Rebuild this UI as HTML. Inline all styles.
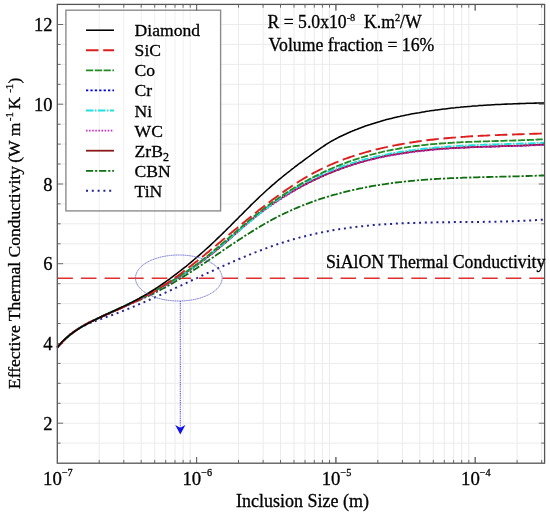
<!DOCTYPE html>
<html><head><meta charset="utf-8"><style>
html,body{margin:0;padding:0;background:#fff;}
svg{display:block;font-family:"Liberation Serif",serif;will-change:transform;}
text{fill:#000;white-space:pre;stroke:#000;stroke-width:0.3px;}
</style></head><body>
<svg width="550" height="514" viewBox="0 0 550 514"><rect width="550" height="514" fill="#fff"/><path d="M99.2,4.4V463.2 M123.8,4.4V463.2 M141.2,4.4V463.2 M154.7,4.4V463.2 M165.7,4.4V463.2 M175.0,4.4V463.2 M183.1,4.4V463.2 M190.2,4.4V463.2 M238.5,4.4V463.2 M263.1,4.4V463.2 M280.5,4.4V463.2 M294.0,4.4V463.2 M305.0,4.4V463.2 M314.3,4.4V463.2 M322.4,4.4V463.2 M329.5,4.4V463.2 M377.8,4.4V463.2 M402.4,4.4V463.2 M419.8,4.4V463.2 M433.3,4.4V463.2 M444.3,4.4V463.2 M453.6,4.4V463.2 M461.7,4.4V463.2 M468.8,4.4V463.2 M517.1,4.4V463.2 M541.7,4.4V463.2 M57.3,443.1H544.6 M57.3,423.2H544.6 M57.3,403.3H544.6 M57.3,383.3H544.6 M57.3,363.4H544.6 M57.3,343.5H544.6 M57.3,323.5H544.6 M57.3,303.6H544.6 M57.3,283.7H544.6 M57.3,263.7H544.6 M57.3,243.8H544.6 M57.3,223.8H544.6 M57.3,203.9H544.6 M57.3,184.0H544.6 M57.3,164.0H544.6 M57.3,144.1H544.6 M57.3,124.2H544.6 M57.3,104.2H544.6 M57.3,84.3H544.6 M57.3,64.4H544.6 M57.3,44.4H544.6 M57.3,24.5H544.6" stroke="#ebebeb" stroke-width="1" fill="none"/><rect x="65.9" y="10.2" width="154.7" height="200.70000000000002" fill="#fff"/><path d="M99.2,10.2V210.9 M123.8,10.2V210.9 M141.2,10.2V210.9 M154.7,10.2V210.9 M165.7,10.2V210.9 M175.0,10.2V210.9 M183.1,10.2V210.9 M190.2,10.2V210.9" stroke="#f0f0f0" stroke-width="1" fill="none"/><rect x="65.9" y="10.2" width="154.7" height="200.70000000000002" fill="none" stroke="#8c8c8c" stroke-width="1.4"/><path d="M99.2,463.2v-3.3 M99.2,4.4v3.3 M123.8,463.2v-3.3 M123.8,4.4v3.3 M141.2,463.2v-3.3 M141.2,4.4v3.3 M154.7,463.2v-3.3 M154.7,4.4v3.3 M165.7,463.2v-3.3 M165.7,4.4v3.3 M175.0,463.2v-3.3 M175.0,4.4v3.3 M183.1,463.2v-3.3 M183.1,4.4v3.3 M190.2,463.2v-3.3 M190.2,4.4v3.3 M196.6,463.2v-6.2 M196.6,4.4v6.2 M238.5,463.2v-3.3 M238.5,4.4v3.3 M263.1,463.2v-3.3 M263.1,4.4v3.3 M280.5,463.2v-3.3 M280.5,4.4v3.3 M294.0,463.2v-3.3 M294.0,4.4v3.3 M305.0,463.2v-3.3 M305.0,4.4v3.3 M314.3,463.2v-3.3 M314.3,4.4v3.3 M322.4,463.2v-3.3 M322.4,4.4v3.3 M329.5,463.2v-3.3 M329.5,4.4v3.3 M335.9,463.2v-6.2 M335.9,4.4v6.2 M377.8,463.2v-3.3 M377.8,4.4v3.3 M402.4,463.2v-3.3 M402.4,4.4v3.3 M419.8,463.2v-3.3 M419.8,4.4v3.3 M433.3,463.2v-3.3 M433.3,4.4v3.3 M444.3,463.2v-3.3 M444.3,4.4v3.3 M453.6,463.2v-3.3 M453.6,4.4v3.3 M461.7,463.2v-3.3 M461.7,4.4v3.3 M468.8,463.2v-3.3 M468.8,4.4v3.3 M475.2,463.2v-6.2 M475.2,4.4v6.2 M517.1,463.2v-3.3 M517.1,4.4v3.3 M541.7,463.2v-3.3 M541.7,4.4v3.3 M196.6,463.2v-6.2 M196.6,4.4v6.2 M335.9,463.2v-6.2 M335.9,4.4v6.2 M475.2,463.2v-6.2 M475.2,4.4v6.2 M57.3,443.1h3.3 M544.6,443.1h-3.3 M57.3,423.2h5.8 M544.6,423.2h-5.8 M57.3,403.3h3.3 M544.6,403.3h-3.3 M57.3,383.3h3.3 M544.6,383.3h-3.3 M57.3,363.4h3.3 M544.6,363.4h-3.3 M57.3,343.5h5.8 M544.6,343.5h-5.8 M57.3,323.5h3.3 M544.6,323.5h-3.3 M57.3,303.6h3.3 M544.6,303.6h-3.3 M57.3,283.7h3.3 M544.6,283.7h-3.3 M57.3,263.7h5.8 M544.6,263.7h-5.8 M57.3,243.8h3.3 M544.6,243.8h-3.3 M57.3,223.8h3.3 M544.6,223.8h-3.3 M57.3,203.9h3.3 M544.6,203.9h-3.3 M57.3,184.0h5.8 M544.6,184.0h-5.8 M57.3,164.0h3.3 M544.6,164.0h-3.3 M57.3,144.1h3.3 M544.6,144.1h-3.3 M57.3,124.2h3.3 M544.6,124.2h-3.3 M57.3,104.2h5.8 M544.6,104.2h-5.8 M57.3,84.3h3.3 M544.6,84.3h-3.3 M57.3,64.4h3.3 M544.6,64.4h-3.3 M57.3,44.4h3.3 M544.6,44.4h-3.3 M57.3,24.5h5.8 M544.6,24.5h-5.8" stroke="#6a6a6a" stroke-width="1.0" fill="none"/><path d="M57.3,278.3H544.6" stroke="#de3030" stroke-width="1.6" stroke-dasharray="15.6 8" fill="none"/><path d="M57.3,347.5 L58.9,345.6 L60.6,343.7 L62.2,342.0 L63.8,340.3 L65.4,338.7 L67.1,337.3 L68.7,335.9 L70.3,334.5 L72.0,333.3 L73.6,332.1 L75.2,331.0 L76.9,329.9 L78.5,328.9 L80.1,328.0 L81.7,327.1 L83.4,326.2 L85.0,325.4 L86.6,324.6 L88.3,323.9 L89.9,323.2 L91.5,322.5 L93.2,321.8 L94.8,321.2 L96.4,320.6 L98.0,320.0 L99.7,319.4 L101.3,318.9 L102.9,318.3 L104.6,317.7 L106.2,317.1 L107.8,316.6 L109.5,316.0 L111.1,315.4 L112.7,314.8 L114.3,314.2 L116.0,313.6 L117.6,313.0 L119.2,312.3 L120.9,311.7 L122.5,311.1 L124.1,310.4 L125.8,309.8 L127.4,309.1 L129.0,308.5 L130.6,307.8 L132.3,307.1 L133.9,306.5 L135.5,305.8 L137.2,305.1 L138.8,304.4 L140.4,303.7 L142.0,303.0 L143.7,302.3 L145.3,301.6 L146.9,300.9 L148.6,300.2 L150.2,299.5 L151.8,298.8 L153.5,298.0 L155.1,297.3 L156.7,296.6 L158.3,295.8 L160.0,295.1 L161.6,294.4 L163.2,293.6 L164.9,292.9 L166.5,292.1 L168.1,291.4 L169.8,290.6 L171.4,289.9 L173.0,289.1 L174.6,288.4 L176.3,287.6 L177.9,286.9 L179.5,286.1 L181.2,285.4 L182.8,284.6 L184.4,283.8 L186.1,283.1 L187.7,282.3 L189.3,281.6 L190.9,280.8 L192.6,280.0 L194.2,279.3 L195.8,278.5 L197.5,277.8 L199.1,277.0 L200.7,276.3 L202.3,275.5 L204.0,274.7 L205.6,274.0 L207.2,273.2 L208.9,272.5 L210.5,271.7 L212.1,271.0 L213.8,270.3 L215.4,269.5 L217.0,268.8 L218.6,268.0 L220.3,267.3 L221.9,266.6 L223.5,265.8 L225.2,265.1 L226.8,264.4 L228.4,263.7 L230.1,263.0 L231.7,262.2 L233.3,261.5 L234.9,260.8 L236.6,260.1 L238.2,259.4 L239.8,258.7 L241.5,258.1 L243.1,257.4 L244.7,256.7 L246.4,256.0 L248.0,255.4 L249.6,254.7 L251.2,254.0 L252.9,253.4 L254.5,252.7 L256.1,252.1 L257.8,251.5 L259.4,250.8 L261.0,250.2 L262.7,249.6 L264.3,249.0 L265.9,248.4 L267.5,247.8 L269.2,247.2 L270.8,246.6 L272.4,246.0 L274.1,245.5 L275.7,244.9 L277.3,244.3 L278.9,243.8 L280.6,243.3 L282.2,242.7 L283.8,242.2 L285.5,241.7 L287.1,241.2 L288.7,240.7 L290.4,240.2 L292.0,239.7 L293.6,239.2 L295.2,238.8 L296.9,238.3 L298.5,237.9 L300.1,237.4 L301.8,237.0 L303.4,236.6 L305.0,236.2 L306.7,235.8 L308.3,235.4 L309.9,235.0 L311.5,234.6 L313.2,234.2 L314.8,233.9 L316.4,233.5 L318.1,233.1 L319.7,232.8 L321.3,232.5 L323.0,232.1 L324.6,231.8 L326.2,231.5 L327.8,231.2 L329.5,230.9 L331.1,230.6 L332.7,230.3 L334.4,230.0 L336.0,229.8 L337.6,229.5 L339.2,229.2 L340.9,229.0 L342.5,228.7 L344.1,228.5 L345.8,228.3 L347.4,228.0 L349.0,227.8 L350.7,227.6 L352.3,227.4 L353.9,227.2 L355.5,227.0 L357.2,226.8 L358.8,226.6 L360.4,226.4 L362.1,226.2 L363.7,226.1 L365.3,225.9 L367.0,225.7 L368.6,225.6 L370.2,225.4 L371.8,225.3 L373.5,225.1 L375.1,225.0 L376.7,224.9 L378.4,224.7 L380.0,224.6 L381.6,224.5 L383.3,224.4 L384.9,224.3 L386.5,224.2 L388.1,224.1 L389.8,224.0 L391.4,223.9 L393.0,223.8 L394.7,223.7 L396.3,223.6 L397.9,223.5 L399.6,223.4 L401.2,223.4 L402.8,223.3 L404.4,223.2 L406.1,223.1 L407.7,223.1 L409.3,223.0 L411.0,223.0 L412.6,222.9 L414.2,222.9 L415.8,222.8 L417.5,222.8 L419.1,222.7 L420.7,222.7 L422.4,222.6 L424.0,222.6 L425.6,222.6 L427.3,222.5 L428.9,222.5 L430.5,222.5 L432.1,222.4 L433.8,222.4 L435.4,222.4 L437.0,222.3 L438.7,222.3 L440.3,222.3 L441.9,222.3 L443.6,222.3 L445.2,222.2 L446.8,222.2 L448.4,222.2 L450.1,222.2 L451.7,222.2 L453.3,222.1 L455.0,222.1 L456.6,222.1 L458.2,222.1 L459.9,222.1 L461.5,222.1 L463.1,222.1 L464.7,222.0 L466.4,222.0 L468.0,222.0 L469.6,222.0 L471.3,222.0 L472.9,222.0 L474.5,222.0 L476.1,221.9 L477.8,221.9 L479.4,221.9 L481.0,221.9 L482.7,221.9 L484.3,221.8 L485.9,221.8 L487.6,221.8 L489.2,221.8 L490.8,221.7 L492.4,221.7 L494.1,221.7 L495.7,221.7 L497.3,221.6 L499.0,221.6 L500.6,221.6 L502.2,221.5 L503.9,221.5 L505.5,221.4 L507.1,221.4 L508.7,221.3 L510.4,221.3 L512.0,221.2 L513.6,221.2 L515.3,221.1 L516.9,221.1 L518.5,221.0 L520.2,220.9 L521.8,220.9 L523.4,220.8 L525.0,220.7 L526.7,220.7 L528.3,220.6 L529.9,220.5 L531.6,220.4 L533.2,220.3 L534.8,220.2 L536.5,220.1 L538.1,220.0 L539.7,219.9 L541.3,219.8 L543.0,219.7 L544.6,219.6" stroke="#23238f" stroke-width="2.0" fill="none" stroke-linecap="butt" stroke-linejoin="round" stroke-dasharray="2 3.8"/><path d="M57.3,347.2 L58.9,345.4 L60.6,343.7 L62.2,342.1 L63.8,340.5 L65.4,339.0 L67.1,337.6 L68.7,336.2 L70.3,334.8 L72.0,333.5 L73.6,332.3 L75.2,331.1 L76.9,329.9 L78.5,328.8 L80.1,327.7 L81.7,326.7 L83.4,325.7 L85.0,324.7 L86.6,323.8 L88.3,322.9 L89.9,322.0 L91.5,321.2 L93.2,320.3 L94.8,319.5 L96.4,318.7 L98.0,318.0 L99.7,317.2 L101.3,316.5 L102.9,315.7 L104.6,315.0 L106.2,314.3 L107.8,313.6 L109.5,312.9 L111.1,312.2 L112.7,311.5 L114.3,310.8 L116.0,310.1 L117.6,309.4 L119.2,308.7 L120.9,308.0 L122.5,307.4 L124.1,306.7 L125.8,306.0 L127.4,305.3 L129.0,304.6 L130.6,303.9 L132.3,303.2 L133.9,302.5 L135.5,301.8 L137.2,301.1 L138.8,300.4 L140.4,299.7 L142.0,298.9 L143.7,298.2 L145.3,297.4 L146.9,296.7 L148.6,295.9 L150.2,295.1 L151.8,294.4 L153.5,293.6 L155.1,292.7 L156.7,291.9 L158.3,291.1 L160.0,290.2 L161.6,289.3 L163.2,288.5 L164.9,287.6 L166.5,286.7 L168.1,285.8 L169.8,284.8 L171.4,283.9 L173.0,282.9 L174.6,282.0 L176.3,281.0 L177.9,280.0 L179.5,279.0 L181.2,278.1 L182.8,277.0 L184.4,276.0 L186.1,275.0 L187.7,274.0 L189.3,272.9 L190.9,271.9 L192.6,270.9 L194.2,269.8 L195.8,268.7 L197.5,267.7 L199.1,266.6 L200.7,265.5 L202.3,264.4 L204.0,263.4 L205.6,262.3 L207.2,261.2 L208.9,260.1 L210.5,259.0 L212.1,257.9 L213.8,256.8 L215.4,255.7 L217.0,254.6 L218.6,253.5 L220.3,252.4 L221.9,251.2 L223.5,250.1 L225.2,249.0 L226.8,247.9 L228.4,246.8 L230.1,245.7 L231.7,244.6 L233.3,243.6 L234.9,242.5 L236.6,241.4 L238.2,240.3 L239.8,239.2 L241.5,238.2 L243.1,237.1 L244.7,236.1 L246.4,235.0 L248.0,234.0 L249.6,232.9 L251.2,231.9 L252.9,230.9 L254.5,229.9 L256.1,228.9 L257.8,227.9 L259.4,226.9 L261.0,225.9 L262.7,225.0 L264.3,224.0 L265.9,223.1 L267.5,222.2 L269.2,221.3 L270.8,220.4 L272.4,219.5 L274.1,218.6 L275.7,217.8 L277.3,216.9 L278.9,216.1 L280.6,215.3 L282.2,214.5 L283.8,213.7 L285.5,212.9 L287.1,212.2 L288.7,211.4 L290.4,210.7 L292.0,209.9 L293.6,209.2 L295.2,208.5 L296.9,207.8 L298.5,207.1 L300.1,206.5 L301.8,205.8 L303.4,205.2 L305.0,204.5 L306.7,203.9 L308.3,203.3 L309.9,202.7 L311.5,202.1 L313.2,201.5 L314.8,200.9 L316.4,200.3 L318.1,199.8 L319.7,199.2 L321.3,198.7 L323.0,198.2 L324.6,197.7 L326.2,197.2 L327.8,196.7 L329.5,196.2 L331.1,195.7 L332.7,195.2 L334.4,194.7 L336.0,194.3 L337.6,193.8 L339.2,193.4 L340.9,193.0 L342.5,192.5 L344.1,192.1 L345.8,191.7 L347.4,191.3 L349.0,190.9 L350.7,190.5 L352.3,190.2 L353.9,189.8 L355.5,189.4 L357.2,189.1 L358.8,188.7 L360.4,188.4 L362.1,188.1 L363.7,187.7 L365.3,187.4 L367.0,187.1 L368.6,186.8 L370.2,186.5 L371.8,186.2 L373.5,185.9 L375.1,185.6 L376.7,185.4 L378.4,185.1 L380.0,184.8 L381.6,184.6 L383.3,184.3 L384.9,184.1 L386.5,183.8 L388.1,183.6 L389.8,183.4 L391.4,183.2 L393.0,183.0 L394.7,182.7 L396.3,182.5 L397.9,182.3 L399.6,182.1 L401.2,182.0 L402.8,181.8 L404.4,181.6 L406.1,181.4 L407.7,181.3 L409.3,181.1 L411.0,180.9 L412.6,180.8 L414.2,180.6 L415.8,180.5 L417.5,180.3 L419.1,180.2 L420.7,180.1 L422.4,179.9 L424.0,179.8 L425.6,179.7 L427.3,179.6 L428.9,179.4 L430.5,179.3 L432.1,179.2 L433.8,179.1 L435.4,179.0 L437.0,178.9 L438.7,178.8 L440.3,178.7 L441.9,178.6 L443.6,178.6 L445.2,178.5 L446.8,178.4 L448.4,178.3 L450.1,178.2 L451.7,178.2 L453.3,178.1 L455.0,178.0 L456.6,178.0 L458.2,177.9 L459.9,177.8 L461.5,177.8 L463.1,177.7 L464.7,177.7 L466.4,177.6 L468.0,177.6 L469.6,177.5 L471.3,177.5 L472.9,177.4 L474.5,177.4 L476.1,177.3 L477.8,177.3 L479.4,177.2 L481.0,177.2 L482.7,177.1 L484.3,177.1 L485.9,177.1 L487.6,177.0 L489.2,177.0 L490.8,176.9 L492.4,176.9 L494.1,176.9 L495.7,176.8 L497.3,176.8 L499.0,176.8 L500.6,176.7 L502.2,176.7 L503.9,176.6 L505.5,176.6 L507.1,176.6 L508.7,176.5 L510.4,176.5 L512.0,176.4 L513.6,176.4 L515.3,176.4 L516.9,176.3 L518.5,176.3 L520.2,176.2 L521.8,176.2 L523.4,176.1 L525.0,176.1 L526.7,176.0 L528.3,176.0 L529.9,175.9 L531.6,175.9 L533.2,175.8 L534.8,175.8 L536.5,175.7 L538.1,175.7 L539.7,175.6 L541.3,175.5 L543.0,175.5 L544.6,175.4" stroke="#0f6e0f" stroke-width="1.8" fill="none" stroke-linecap="butt" stroke-linejoin="round" stroke-dasharray="7.2 1.9 2.2 1.8"/><path d="M57.3,347.5 L58.9,345.6 L60.6,343.8 L62.2,342.0 L63.8,340.4 L65.4,338.8 L67.1,337.3 L68.7,335.8 L70.3,334.5 L72.0,333.2 L73.6,332.0 L75.2,330.8 L76.9,329.7 L78.5,328.6 L80.1,327.6 L81.7,326.6 L83.4,325.7 L85.0,324.8 L86.6,323.9 L88.3,323.1 L89.9,322.3 L91.5,321.5 L93.2,320.7 L94.8,320.0 L96.4,319.2 L98.0,318.5 L99.7,317.7 L101.3,317.0 L102.9,316.2 L104.6,315.5 L106.2,314.8 L107.8,314.0 L109.5,313.3 L111.1,312.5 L112.7,311.8 L114.3,311.1 L116.0,310.3 L117.6,309.6 L119.2,308.8 L120.9,308.1 L122.5,307.3 L124.1,306.5 L125.8,305.8 L127.4,305.0 L129.0,304.2 L130.6,303.5 L132.3,302.7 L133.9,301.9 L135.5,301.1 L137.2,300.3 L138.8,299.5 L140.4,298.7 L142.0,297.9 L143.7,297.0 L145.3,296.2 L146.9,295.4 L148.6,294.5 L150.2,293.7 L151.8,292.8 L153.5,291.9 L155.1,291.0 L156.7,290.1 L158.3,289.2 L160.0,288.3 L161.6,287.4 L163.2,286.5 L164.9,285.5 L166.5,284.6 L168.1,283.6 L169.8,282.7 L171.4,281.7 L173.0,280.7 L174.6,279.7 L176.3,278.7 L177.9,277.7 L179.5,276.6 L181.2,275.6 L182.8,274.5 L184.4,273.5 L186.1,272.4 L187.7,271.3 L189.3,270.2 L190.9,269.1 L192.6,268.0 L194.2,266.8 L195.8,265.7 L197.5,264.5 L199.1,263.3 L200.7,262.2 L202.3,261.0 L204.0,259.7 L205.6,258.5 L207.2,257.3 L208.9,256.0 L210.5,254.8 L212.1,253.5 L213.8,252.2 L215.4,250.9 L217.0,249.5 L218.6,248.2 L220.3,246.8 L221.9,245.5 L223.5,244.1 L225.2,242.7 L226.8,241.3 L228.4,239.9 L230.1,238.4 L231.7,237.0 L233.3,235.6 L234.9,234.1 L236.6,232.7 L238.2,231.2 L239.8,229.8 L241.5,228.4 L243.1,226.9 L244.7,225.5 L246.4,224.1 L248.0,222.7 L249.6,221.3 L251.2,220.0 L252.9,218.6 L254.5,217.3 L256.1,216.0 L257.8,214.7 L259.4,213.4 L261.0,212.1 L262.7,210.9 L264.3,209.7 L265.9,208.5 L267.5,207.3 L269.2,206.1 L270.8,205.0 L272.4,203.9 L274.1,202.8 L275.7,201.7 L277.3,200.6 L278.9,199.5 L280.6,198.5 L282.2,197.5 L283.8,196.5 L285.5,195.5 L287.1,194.5 L288.7,193.5 L290.4,192.5 L292.0,191.6 L293.6,190.7 L295.2,189.7 L296.9,188.8 L298.5,187.9 L300.1,187.1 L301.8,186.2 L303.4,185.3 L305.0,184.5 L306.7,183.6 L308.3,182.8 L309.9,182.0 L311.5,181.2 L313.2,180.4 L314.8,179.6 L316.4,178.9 L318.1,178.1 L319.7,177.3 L321.3,176.6 L323.0,175.9 L324.6,175.2 L326.2,174.5 L327.8,173.8 L329.5,173.1 L331.1,172.4 L332.7,171.8 L334.4,171.1 L336.0,170.5 L337.6,169.9 L339.2,169.3 L340.9,168.7 L342.5,168.1 L344.1,167.5 L345.8,166.9 L347.4,166.3 L349.0,165.8 L350.7,165.3 L352.3,164.7 L353.9,164.2 L355.5,163.7 L357.2,163.2 L358.8,162.7 L360.4,162.2 L362.1,161.8 L363.7,161.3 L365.3,160.9 L367.0,160.4 L368.6,160.0 L370.2,159.6 L371.8,159.2 L373.5,158.8 L375.1,158.4 L376.7,158.0 L378.4,157.6 L380.0,157.2 L381.6,156.9 L383.3,156.5 L384.9,156.2 L386.5,155.9 L388.1,155.6 L389.8,155.2 L391.4,154.9 L393.0,154.6 L394.7,154.3 L396.3,154.1 L397.9,153.8 L399.6,153.5 L401.2,153.3 L402.8,153.0 L404.4,152.8 L406.1,152.5 L407.7,152.3 L409.3,152.1 L411.0,151.8 L412.6,151.6 L414.2,151.4 L415.8,151.2 L417.5,151.0 L419.1,150.8 L420.7,150.7 L422.4,150.5 L424.0,150.3 L425.6,150.1 L427.3,150.0 L428.9,149.8 L430.5,149.7 L432.1,149.5 L433.8,149.4 L435.4,149.2 L437.0,149.1 L438.7,149.0 L440.3,148.9 L441.9,148.7 L443.6,148.6 L445.2,148.5 L446.8,148.4 L448.4,148.3 L450.1,148.2 L451.7,148.1 L453.3,148.0 L455.0,147.9 L456.6,147.8 L458.2,147.8 L459.9,147.7 L461.5,147.6 L463.1,147.5 L464.7,147.5 L466.4,147.4 L468.0,147.3 L469.6,147.2 L471.3,147.2 L472.9,147.1 L474.5,147.1 L476.1,147.0 L477.8,146.9 L479.4,146.9 L481.0,146.8 L482.7,146.8 L484.3,146.7 L485.9,146.7 L487.6,146.6 L489.2,146.6 L490.8,146.5 L492.4,146.5 L494.1,146.4 L495.7,146.4 L497.3,146.3 L499.0,146.3 L500.6,146.2 L502.2,146.2 L503.9,146.1 L505.5,146.1 L507.1,146.0 L508.7,146.0 L510.4,145.9 L512.0,145.9 L513.6,145.8 L515.3,145.8 L516.9,145.7 L518.5,145.7 L520.2,145.6 L521.8,145.6 L523.4,145.5 L525.0,145.4 L526.7,145.4 L528.3,145.3 L529.9,145.2 L531.6,145.1 L533.2,145.1 L534.8,145.0 L536.5,144.9 L538.1,144.8 L539.7,144.7 L541.3,144.6 L543.0,144.5 L544.6,144.4" stroke="#0000e6" stroke-width="1.8" fill="none" stroke-linecap="butt" stroke-linejoin="round" stroke-dasharray="2.3 2.1"/><path d="M57.3,347.5 L58.9,345.6 L60.6,343.8 L62.2,342.0 L63.8,340.4 L65.4,338.8 L67.1,337.3 L68.7,335.8 L70.3,334.5 L72.0,333.2 L73.6,332.0 L75.2,330.8 L76.9,329.7 L78.5,328.6 L80.1,327.6 L81.7,326.6 L83.4,325.7 L85.0,324.8 L86.6,323.9 L88.3,323.1 L89.9,322.3 L91.5,321.5 L93.2,320.7 L94.8,320.0 L96.4,319.2 L98.0,318.5 L99.7,317.7 L101.3,317.0 L102.9,316.2 L104.6,315.5 L106.2,314.8 L107.8,314.0 L109.5,313.3 L111.1,312.5 L112.7,311.8 L114.3,311.1 L116.0,310.3 L117.6,309.6 L119.2,308.8 L120.9,308.1 L122.5,307.3 L124.1,306.5 L125.8,305.8 L127.4,305.0 L129.0,304.2 L130.6,303.5 L132.3,302.7 L133.9,301.9 L135.5,301.1 L137.2,300.3 L138.8,299.5 L140.4,298.7 L142.0,297.9 L143.7,297.0 L145.3,296.2 L146.9,295.4 L148.6,294.5 L150.2,293.7 L151.8,292.8 L153.5,291.9 L155.1,291.0 L156.7,290.1 L158.3,289.2 L160.0,288.3 L161.6,287.4 L163.2,286.5 L164.9,285.5 L166.5,284.6 L168.1,283.6 L169.8,282.7 L171.4,281.7 L173.0,280.7 L174.6,279.7 L176.3,278.7 L177.9,277.7 L179.5,276.6 L181.2,275.6 L182.8,274.5 L184.4,273.5 L186.1,272.4 L187.7,271.3 L189.3,270.2 L190.9,269.1 L192.6,268.0 L194.2,266.8 L195.8,265.7 L197.5,264.5 L199.1,263.3 L200.7,262.2 L202.3,261.0 L204.0,259.7 L205.6,258.5 L207.2,257.3 L208.9,256.0 L210.5,254.8 L212.1,253.5 L213.8,252.2 L215.4,250.9 L217.0,249.5 L218.6,248.2 L220.3,246.8 L221.9,245.5 L223.5,244.1 L225.2,242.7 L226.8,241.3 L228.4,239.9 L230.1,238.4 L231.7,237.0 L233.3,235.6 L234.9,234.1 L236.6,232.7 L238.2,231.2 L239.8,229.8 L241.5,228.4 L243.1,226.9 L244.7,225.5 L246.4,224.1 L248.0,222.7 L249.6,221.3 L251.2,220.0 L252.9,218.6 L254.5,217.3 L256.1,216.0 L257.8,214.7 L259.4,213.4 L261.0,212.1 L262.7,210.9 L264.3,209.7 L265.9,208.5 L267.5,207.3 L269.2,206.1 L270.8,205.0 L272.4,203.9 L274.1,202.8 L275.7,201.7 L277.3,200.6 L278.9,199.5 L280.6,198.5 L282.2,197.5 L283.8,196.5 L285.5,195.5 L287.1,194.5 L288.7,193.5 L290.4,192.5 L292.0,191.6 L293.6,190.7 L295.2,189.7 L296.9,188.8 L298.5,187.9 L300.1,187.1 L301.8,186.2 L303.4,185.3 L305.0,184.5 L306.7,183.6 L308.3,182.8 L309.9,182.0 L311.5,181.2 L313.2,180.4 L314.8,179.6 L316.4,178.9 L318.1,178.1 L319.7,177.3 L321.3,176.6 L323.0,175.9 L324.6,175.2 L326.2,174.5 L327.8,173.8 L329.5,173.1 L331.1,172.4 L332.7,171.8 L334.4,171.1 L336.0,170.5 L337.6,169.9 L339.2,169.3 L340.9,168.7 L342.5,168.1 L344.1,167.5 L345.8,166.9 L347.4,166.3 L349.0,165.8 L350.7,165.3 L352.3,164.7 L353.9,164.2 L355.5,163.7 L357.2,163.2 L358.8,162.7 L360.4,162.2 L362.1,161.8 L363.7,161.3 L365.3,160.9 L367.0,160.4 L368.6,160.0 L370.2,159.6 L371.8,159.2 L373.5,158.8 L375.1,158.4 L376.7,158.0 L378.4,157.6 L380.0,157.2 L381.6,156.9 L383.3,156.5 L384.9,156.2 L386.5,155.9 L388.1,155.6 L389.8,155.2 L391.4,154.9 L393.0,154.6 L394.7,154.3 L396.3,154.1 L397.9,153.8 L399.6,153.5 L401.2,153.3 L402.8,153.0 L404.4,152.8 L406.1,152.5 L407.7,152.3 L409.3,152.1 L411.0,151.8 L412.6,151.6 L414.2,151.4 L415.8,151.2 L417.5,151.0 L419.1,150.8 L420.7,150.7 L422.4,150.5 L424.0,150.3 L425.6,150.1 L427.3,150.0 L428.9,149.8 L430.5,149.7 L432.1,149.5 L433.8,149.4 L435.4,149.2 L437.0,149.1 L438.7,149.0 L440.3,148.9 L441.9,148.7 L443.6,148.6 L445.2,148.5 L446.8,148.4 L448.4,148.3 L450.1,148.2 L451.7,148.1 L453.3,148.0 L455.0,147.9 L456.6,147.8 L458.2,147.8 L459.9,147.7 L461.5,147.6 L463.1,147.5 L464.7,147.5 L466.4,147.4 L468.0,147.3 L469.6,147.2 L471.3,147.2 L472.9,147.1 L474.5,147.1 L476.1,147.0 L477.8,146.9 L479.4,146.9 L481.0,146.8 L482.7,146.8 L484.3,146.7 L485.9,146.7 L487.6,146.6 L489.2,146.6 L490.8,146.5 L492.4,146.5 L494.1,146.4 L495.7,146.4 L497.3,146.3 L499.0,146.3 L500.6,146.2 L502.2,146.2 L503.9,146.1 L505.5,146.1 L507.1,146.0 L508.7,146.0 L510.4,145.9 L512.0,145.9 L513.6,145.8 L515.3,145.8 L516.9,145.7 L518.5,145.7 L520.2,145.6 L521.8,145.6 L523.4,145.5 L525.0,145.4 L526.7,145.4 L528.3,145.3 L529.9,145.2 L531.6,145.1 L533.2,145.1 L534.8,145.0 L536.5,144.9 L538.1,144.8 L539.7,144.7 L541.3,144.6 L543.0,144.5 L544.6,144.4" stroke="#8b1a1a" stroke-width="1.8" fill="none" stroke-linecap="butt" stroke-linejoin="round"/><path d="M57.3,347.5 L58.9,345.6 L60.6,343.8 L62.2,342.0 L63.8,340.4 L65.4,338.8 L67.1,337.3 L68.7,335.9 L70.3,334.6 L72.0,333.3 L73.6,332.0 L75.2,330.8 L76.9,329.7 L78.5,328.6 L80.1,327.6 L81.7,326.6 L83.4,325.7 L85.0,324.7 L86.6,323.9 L88.3,323.0 L89.9,322.2 L91.5,321.4 L93.2,320.6 L94.8,319.8 L96.4,319.1 L98.0,318.3 L99.7,317.6 L101.3,316.8 L102.9,316.1 L104.6,315.4 L106.2,314.6 L107.8,313.9 L109.5,313.2 L111.1,312.5 L112.7,311.8 L114.3,311.0 L116.0,310.3 L117.6,309.6 L119.2,308.9 L120.9,308.2 L122.5,307.4 L124.1,306.7 L125.8,306.0 L127.4,305.2 L129.0,304.5 L130.6,303.7 L132.3,303.0 L133.9,302.2 L135.5,301.5 L137.2,300.7 L138.8,299.9 L140.4,299.1 L142.0,298.3 L143.7,297.5 L145.3,296.7 L146.9,295.9 L148.6,295.0 L150.2,294.2 L151.8,293.3 L153.5,292.4 L155.1,291.6 L156.7,290.7 L158.3,289.7 L160.0,288.8 L161.6,287.9 L163.2,287.0 L164.9,286.0 L166.5,285.0 L168.1,284.1 L169.8,283.1 L171.4,282.1 L173.0,281.1 L174.6,280.0 L176.3,279.0 L177.9,278.0 L179.5,276.9 L181.2,275.8 L182.8,274.8 L184.4,273.7 L186.1,272.6 L187.7,271.5 L189.3,270.3 L190.9,269.2 L192.6,268.0 L194.2,266.9 L195.8,265.7 L197.5,264.5 L199.1,263.3 L200.7,262.1 L202.3,260.9 L204.0,259.7 L205.6,258.5 L207.2,257.2 L208.9,255.9 L210.5,254.7 L212.1,253.4 L213.8,252.1 L215.4,250.8 L217.0,249.5 L218.6,248.1 L220.3,246.8 L221.9,245.4 L223.5,244.1 L225.2,242.7 L226.8,241.3 L228.4,239.9 L230.1,238.5 L231.7,237.1 L233.3,235.7 L234.9,234.3 L236.6,232.9 L238.2,231.5 L239.8,230.1 L241.5,228.7 L243.1,227.3 L244.7,225.9 L246.4,224.6 L248.0,223.2 L249.6,221.9 L251.2,220.5 L252.9,219.2 L254.5,217.9 L256.1,216.6 L257.8,215.3 L259.4,214.1 L261.0,212.8 L262.7,211.6 L264.3,210.4 L265.9,209.2 L267.5,208.0 L269.2,206.9 L270.8,205.7 L272.4,204.6 L274.1,203.5 L275.7,202.4 L277.3,201.3 L278.9,200.3 L280.6,199.2 L282.2,198.2 L283.8,197.1 L285.5,196.1 L287.1,195.1 L288.7,194.1 L290.4,193.1 L292.0,192.1 L293.6,191.2 L295.2,190.2 L296.9,189.3 L298.5,188.3 L300.1,187.4 L301.8,186.5 L303.4,185.6 L305.0,184.7 L306.7,183.8 L308.3,182.9 L309.9,182.1 L311.5,181.2 L313.2,180.4 L314.8,179.6 L316.4,178.8 L318.1,178.0 L319.7,177.2 L321.3,176.4 L323.0,175.7 L324.6,174.9 L326.2,174.2 L327.8,173.5 L329.5,172.8 L331.1,172.2 L332.7,171.5 L334.4,170.9 L336.0,170.3 L337.6,169.7 L339.2,169.1 L340.9,168.5 L342.5,167.9 L344.1,167.4 L345.8,166.8 L347.4,166.3 L349.0,165.8 L350.7,165.3 L352.3,164.8 L353.9,164.3 L355.5,163.8 L357.2,163.3 L358.8,162.9 L360.4,162.4 L362.1,162.0 L363.7,161.6 L365.3,161.1 L367.0,160.7 L368.6,160.3 L370.2,159.9 L371.8,159.5 L373.5,159.2 L375.1,158.8 L376.7,158.4 L378.4,158.1 L380.0,157.7 L381.6,157.4 L383.3,157.0 L384.9,156.7 L386.5,156.4 L388.1,156.1 L389.8,155.8 L391.4,155.5 L393.0,155.2 L394.7,154.9 L396.3,154.6 L397.9,154.3 L399.6,154.1 L401.2,153.8 L402.8,153.6 L404.4,153.3 L406.1,153.1 L407.7,152.8 L409.3,152.6 L411.0,152.4 L412.6,152.2 L414.2,152.0 L415.8,151.8 L417.5,151.6 L419.1,151.4 L420.7,151.2 L422.4,151.0 L424.0,150.8 L425.6,150.6 L427.3,150.5 L428.9,150.3 L430.5,150.1 L432.1,150.0 L433.8,149.8 L435.4,149.7 L437.0,149.5 L438.7,149.4 L440.3,149.3 L441.9,149.1 L443.6,149.0 L445.2,148.9 L446.8,148.8 L448.4,148.7 L450.1,148.5 L451.7,148.4 L453.3,148.3 L455.0,148.2 L456.6,148.1 L458.2,148.0 L459.9,147.9 L461.5,147.9 L463.1,147.8 L464.7,147.7 L466.4,147.6 L468.0,147.5 L469.6,147.5 L471.3,147.4 L472.9,147.3 L474.5,147.2 L476.1,147.2 L477.8,147.1 L479.4,147.0 L481.0,147.0 L482.7,146.9 L484.3,146.9 L485.9,146.8 L487.6,146.7 L489.2,146.7 L490.8,146.6 L492.4,146.6 L494.1,146.5 L495.7,146.5 L497.3,146.4 L499.0,146.4 L500.6,146.3 L502.2,146.3 L503.9,146.2 L505.5,146.2 L507.1,146.2 L508.7,146.1 L510.4,146.1 L512.0,146.0 L513.6,146.0 L515.3,145.9 L516.9,145.9 L518.5,145.8 L520.2,145.8 L521.8,145.7 L523.4,145.7 L525.0,145.6 L526.7,145.6 L528.3,145.5 L529.9,145.5 L531.6,145.4 L533.2,145.4 L534.8,145.3 L536.5,145.2 L538.1,145.2 L539.7,145.1 L541.3,145.1 L543.0,145.0 L544.6,144.9" stroke="#d020d0" stroke-width="1.8" fill="none" stroke-linecap="butt" stroke-linejoin="round" stroke-dasharray="1.5 1.6"/><path d="M57.3,347.4 L58.9,345.5 L60.6,343.7 L62.2,342.0 L63.8,340.4 L65.4,338.8 L67.1,337.3 L68.7,335.9 L70.3,334.6 L72.0,333.3 L73.6,332.1 L75.2,331.0 L76.9,329.8 L78.5,328.8 L80.1,327.8 L81.7,326.8 L83.4,325.9 L85.0,325.0 L86.6,324.1 L88.3,323.2 L89.9,322.4 L91.5,321.5 L93.2,320.7 L94.8,319.9 L96.4,319.1 L98.0,318.3 L99.7,317.5 L101.3,316.7 L102.9,316.0 L104.6,315.2 L106.2,314.4 L107.8,313.6 L109.5,312.9 L111.1,312.1 L112.7,311.3 L114.3,310.6 L116.0,309.8 L117.6,309.0 L119.2,308.3 L120.9,307.5 L122.5,306.7 L124.1,306.0 L125.8,305.2 L127.4,304.4 L129.0,303.7 L130.6,302.9 L132.3,302.1 L133.9,301.3 L135.5,300.6 L137.2,299.8 L138.8,299.0 L140.4,298.2 L142.0,297.4 L143.7,296.6 L145.3,295.8 L146.9,294.9 L148.6,294.1 L150.2,293.3 L151.8,292.5 L153.5,291.6 L155.1,290.7 L156.7,289.9 L158.3,289.0 L160.0,288.1 L161.6,287.2 L163.2,286.3 L164.9,285.4 L166.5,284.5 L168.1,283.6 L169.8,282.6 L171.4,281.6 L173.0,280.7 L174.6,279.7 L176.3,278.7 L177.9,277.7 L179.5,276.6 L181.2,275.6 L182.8,274.5 L184.4,273.5 L186.1,272.4 L187.7,271.3 L189.3,270.1 L190.9,269.0 L192.6,267.9 L194.2,266.7 L195.8,265.5 L197.5,264.3 L199.1,263.1 L200.7,261.9 L202.3,260.6 L204.0,259.4 L205.6,258.1 L207.2,256.8 L208.9,255.5 L210.5,254.3 L212.1,252.9 L213.8,251.6 L215.4,250.3 L217.0,249.0 L218.6,247.7 L220.3,246.3 L221.9,245.0 L223.5,243.6 L225.2,242.3 L226.8,240.9 L228.4,239.5 L230.1,238.2 L231.7,236.8 L233.3,235.4 L234.9,234.1 L236.6,232.7 L238.2,231.3 L239.8,230.0 L241.5,228.6 L243.1,227.2 L244.7,225.9 L246.4,224.5 L248.0,223.2 L249.6,221.8 L251.2,220.5 L252.9,219.1 L254.5,217.8 L256.1,216.5 L257.8,215.2 L259.4,213.8 L261.0,212.5 L262.7,211.3 L264.3,210.0 L265.9,208.7 L267.5,207.4 L269.2,206.2 L270.8,204.9 L272.4,203.7 L274.1,202.5 L275.7,201.3 L277.3,200.1 L278.9,199.0 L280.6,197.8 L282.2,196.7 L283.8,195.6 L285.5,194.5 L287.1,193.4 L288.7,192.3 L290.4,191.3 L292.0,190.2 L293.6,189.2 L295.2,188.2 L296.9,187.3 L298.5,186.3 L300.1,185.4 L301.8,184.4 L303.4,183.5 L305.0,182.6 L306.7,181.8 L308.3,180.9 L309.9,180.1 L311.5,179.2 L313.2,178.4 L314.8,177.6 L316.4,176.8 L318.1,176.1 L319.7,175.3 L321.3,174.6 L323.0,173.9 L324.6,173.2 L326.2,172.5 L327.8,171.8 L329.5,171.1 L331.1,170.4 L332.7,169.8 L334.4,169.2 L336.0,168.5 L337.6,167.9 L339.2,167.3 L340.9,166.7 L342.5,166.2 L344.1,165.6 L345.8,165.1 L347.4,164.5 L349.0,164.0 L350.7,163.5 L352.3,163.0 L353.9,162.5 L355.5,162.0 L357.2,161.5 L358.8,161.0 L360.4,160.6 L362.1,160.1 L363.7,159.7 L365.3,159.2 L367.0,158.8 L368.6,158.4 L370.2,158.0 L371.8,157.6 L373.5,157.2 L375.1,156.8 L376.7,156.4 L378.4,156.1 L380.0,155.7 L381.6,155.4 L383.3,155.0 L384.9,154.7 L386.5,154.4 L388.1,154.0 L389.8,153.7 L391.4,153.4 L393.0,153.1 L394.7,152.8 L396.3,152.5 L397.9,152.3 L399.6,152.0 L401.2,151.7 L402.8,151.5 L404.4,151.2 L406.1,151.0 L407.7,150.7 L409.3,150.5 L411.0,150.3 L412.6,150.1 L414.2,149.8 L415.8,149.6 L417.5,149.4 L419.1,149.2 L420.7,149.0 L422.4,148.9 L424.0,148.7 L425.6,148.5 L427.3,148.3 L428.9,148.2 L430.5,148.0 L432.1,147.8 L433.8,147.7 L435.4,147.5 L437.0,147.4 L438.7,147.3 L440.3,147.1 L441.9,147.0 L443.6,146.9 L445.2,146.8 L446.8,146.6 L448.4,146.5 L450.1,146.4 L451.7,146.3 L453.3,146.2 L455.0,146.1 L456.6,146.0 L458.2,145.9 L459.9,145.8 L461.5,145.7 L463.1,145.6 L464.7,145.6 L466.4,145.5 L468.0,145.4 L469.6,145.3 L471.3,145.2 L472.9,145.2 L474.5,145.1 L476.1,145.0 L477.8,145.0 L479.4,144.9 L481.0,144.8 L482.7,144.8 L484.3,144.7 L485.9,144.7 L487.6,144.6 L489.2,144.6 L490.8,144.5 L492.4,144.5 L494.1,144.4 L495.7,144.3 L497.3,144.3 L499.0,144.2 L500.6,144.2 L502.2,144.1 L503.9,144.1 L505.5,144.1 L507.1,144.0 L508.7,144.0 L510.4,143.9 L512.0,143.9 L513.6,143.8 L515.3,143.8 L516.9,143.7 L518.5,143.7 L520.2,143.6 L521.8,143.5 L523.4,143.5 L525.0,143.4 L526.7,143.4 L528.3,143.3 L529.9,143.3 L531.6,143.2 L533.2,143.1 L534.8,143.1 L536.5,143.0 L538.1,142.9 L539.7,142.9 L541.3,142.8 L543.0,142.7 L544.6,142.7" stroke="#20e0e0" stroke-width="1.8" fill="none" stroke-linecap="butt" stroke-linejoin="round" stroke-dasharray="7.5 1.5 1.5 1.5"/><path d="M57.3,347.3 L58.9,345.5 L60.6,343.7 L62.2,342.0 L63.8,340.4 L65.4,338.9 L67.1,337.4 L68.7,336.0 L70.3,334.7 L72.0,333.4 L73.6,332.2 L75.2,331.0 L76.9,329.9 L78.5,328.8 L80.1,327.8 L81.7,326.8 L83.4,325.8 L85.0,324.9 L86.6,324.0 L88.3,323.1 L89.9,322.3 L91.5,321.4 L93.2,320.6 L94.8,319.8 L96.4,319.1 L98.0,318.3 L99.7,317.5 L101.3,316.7 L102.9,316.0 L104.6,315.2 L106.2,314.4 L107.8,313.7 L109.5,312.9 L111.1,312.1 L112.7,311.4 L114.3,310.6 L116.0,309.8 L117.6,309.1 L119.2,308.3 L120.9,307.5 L122.5,306.8 L124.1,306.0 L125.8,305.2 L127.4,304.4 L129.0,303.7 L130.6,302.9 L132.3,302.1 L133.9,301.3 L135.5,300.5 L137.2,299.7 L138.8,298.9 L140.4,298.1 L142.0,297.3 L143.7,296.4 L145.3,295.6 L146.9,294.8 L148.6,293.9 L150.2,293.1 L151.8,292.2 L153.5,291.3 L155.1,290.5 L156.7,289.6 L158.3,288.7 L160.0,287.8 L161.6,286.9 L163.2,285.9 L164.9,285.0 L166.5,284.1 L168.1,283.1 L169.8,282.1 L171.4,281.2 L173.0,280.2 L174.6,279.2 L176.3,278.1 L177.9,277.1 L179.5,276.1 L181.2,275.0 L182.8,274.0 L184.4,272.9 L186.1,271.8 L187.7,270.7 L189.3,269.5 L190.9,268.4 L192.6,267.2 L194.2,266.1 L195.8,264.9 L197.5,263.7 L199.1,262.4 L200.7,261.2 L202.3,259.9 L204.0,258.7 L205.6,257.4 L207.2,256.1 L208.9,254.7 L210.5,253.4 L212.1,252.1 L213.8,250.7 L215.4,249.3 L217.0,248.0 L218.6,246.6 L220.3,245.2 L221.9,243.8 L223.5,242.4 L225.2,241.0 L226.8,239.6 L228.4,238.2 L230.1,236.8 L231.7,235.3 L233.3,233.9 L234.9,232.5 L236.6,231.1 L238.2,229.7 L239.8,228.3 L241.5,226.9 L243.1,225.5 L244.7,224.1 L246.4,222.8 L248.0,221.4 L249.6,220.0 L251.2,218.7 L252.9,217.3 L254.5,216.0 L256.1,214.7 L257.8,213.4 L259.4,212.1 L261.0,210.8 L262.7,209.6 L264.3,208.3 L265.9,207.1 L267.5,205.9 L269.2,204.7 L270.8,203.5 L272.4,202.3 L274.1,201.2 L275.7,200.0 L277.3,198.9 L278.9,197.8 L280.6,196.7 L282.2,195.6 L283.8,194.5 L285.5,193.4 L287.1,192.3 L288.7,191.3 L290.4,190.3 L292.0,189.3 L293.6,188.3 L295.2,187.3 L296.9,186.3 L298.5,185.3 L300.1,184.4 L301.8,183.4 L303.4,182.5 L305.0,181.6 L306.7,180.7 L308.3,179.8 L309.9,178.9 L311.5,178.1 L313.2,177.2 L314.8,176.4 L316.4,175.6 L318.1,174.7 L319.7,173.9 L321.3,173.2 L323.0,172.4 L324.6,171.6 L326.2,170.9 L327.8,170.1 L329.5,169.4 L331.1,168.7 L332.7,168.0 L334.4,167.3 L336.0,166.6 L337.6,165.9 L339.2,165.3 L340.9,164.6 L342.5,164.0 L344.1,163.4 L345.8,162.8 L347.4,162.2 L349.0,161.6 L350.7,161.0 L352.3,160.4 L353.9,159.9 L355.5,159.3 L357.2,158.8 L358.8,158.3 L360.4,157.8 L362.1,157.3 L363.7,156.8 L365.3,156.3 L367.0,155.8 L368.6,155.4 L370.2,154.9 L371.8,154.5 L373.5,154.1 L375.1,153.7 L376.7,153.2 L378.4,152.8 L380.0,152.5 L381.6,152.1 L383.3,151.7 L384.9,151.3 L386.5,151.0 L388.1,150.6 L389.8,150.3 L391.4,150.0 L393.0,149.7 L394.7,149.4 L396.3,149.1 L397.9,148.8 L399.6,148.5 L401.2,148.2 L402.8,147.9 L404.4,147.7 L406.1,147.4 L407.7,147.2 L409.3,146.9 L411.0,146.7 L412.6,146.5 L414.2,146.2 L415.8,146.0 L417.5,145.8 L419.1,145.6 L420.7,145.4 L422.4,145.2 L424.0,145.1 L425.6,144.9 L427.3,144.7 L428.9,144.6 L430.5,144.4 L432.1,144.2 L433.8,144.1 L435.4,143.9 L437.0,143.8 L438.7,143.7 L440.3,143.5 L441.9,143.4 L443.6,143.3 L445.2,143.2 L446.8,143.1 L448.4,143.0 L450.1,142.9 L451.7,142.8 L453.3,142.7 L455.0,142.6 L456.6,142.5 L458.2,142.4 L459.9,142.3 L461.5,142.2 L463.1,142.2 L464.7,142.1 L466.4,142.0 L468.0,141.9 L469.6,141.9 L471.3,141.8 L472.9,141.7 L474.5,141.7 L476.1,141.6 L477.8,141.6 L479.4,141.5 L481.0,141.5 L482.7,141.4 L484.3,141.4 L485.9,141.3 L487.6,141.3 L489.2,141.2 L490.8,141.2 L492.4,141.1 L494.1,141.1 L495.7,141.0 L497.3,141.0 L499.0,140.9 L500.6,140.9 L502.2,140.8 L503.9,140.8 L505.5,140.7 L507.1,140.7 L508.7,140.7 L510.4,140.6 L512.0,140.6 L513.6,140.5 L515.3,140.5 L516.9,140.4 L518.5,140.3 L520.2,140.3 L521.8,140.2 L523.4,140.2 L525.0,140.1 L526.7,140.0 L528.3,140.0 L529.9,139.9 L531.6,139.8 L533.2,139.8 L534.8,139.7 L536.5,139.6 L538.1,139.5 L539.7,139.4 L541.3,139.4 L543.0,139.3 L544.6,139.2" stroke="#228b22" stroke-width="1.8" fill="none" stroke-linecap="butt" stroke-linejoin="round" stroke-dasharray="7.2 1.6"/><path d="M57.3,347.6 L58.9,345.6 L60.6,343.8 L62.2,342.0 L63.8,340.3 L65.4,338.8 L67.1,337.3 L68.7,335.9 L70.3,334.5 L72.0,333.2 L73.6,332.0 L75.2,330.9 L76.9,329.7 L78.5,328.7 L80.1,327.7 L81.7,326.7 L83.4,325.7 L85.0,324.8 L86.6,323.9 L88.3,323.0 L89.9,322.2 L91.5,321.4 L93.2,320.6 L94.8,319.8 L96.4,319.1 L98.0,318.3 L99.7,317.6 L101.3,316.8 L102.9,316.1 L104.6,315.4 L106.2,314.7 L107.8,314.0 L109.5,313.2 L111.1,312.5 L112.7,311.8 L114.3,311.1 L116.0,310.4 L117.6,309.6 L119.2,308.9 L120.9,308.2 L122.5,307.4 L124.1,306.7 L125.8,306.0 L127.4,305.2 L129.0,304.4 L130.6,303.7 L132.3,302.9 L133.9,302.1 L135.5,301.3 L137.2,300.5 L138.8,299.7 L140.4,298.9 L142.0,298.0 L143.7,297.2 L145.3,296.3 L146.9,295.4 L148.6,294.5 L150.2,293.6 L151.8,292.7 L153.5,291.8 L155.1,290.8 L156.7,289.8 L158.3,288.8 L160.0,287.8 L161.6,286.8 L163.2,285.8 L164.9,284.7 L166.5,283.6 L168.1,282.5 L169.8,281.4 L171.4,280.3 L173.0,279.2 L174.6,278.0 L176.3,276.8 L177.9,275.7 L179.5,274.5 L181.2,273.3 L182.8,272.1 L184.4,270.8 L186.1,269.6 L187.7,268.4 L189.3,267.1 L190.9,265.9 L192.6,264.6 L194.2,263.3 L195.8,262.0 L197.5,260.7 L199.1,259.4 L200.7,258.1 L202.3,256.8 L204.0,255.5 L205.6,254.1 L207.2,252.8 L208.9,251.4 L210.5,250.1 L212.1,248.8 L213.8,247.4 L215.4,246.1 L217.0,244.7 L218.6,243.3 L220.3,242.0 L221.9,240.6 L223.5,239.3 L225.2,237.9 L226.8,236.5 L228.4,235.2 L230.1,233.8 L231.7,232.4 L233.3,231.1 L234.9,229.7 L236.6,228.4 L238.2,227.0 L239.8,225.7 L241.5,224.3 L243.1,223.0 L244.7,221.7 L246.4,220.3 L248.0,219.0 L249.6,217.7 L251.2,216.4 L252.9,215.0 L254.5,213.7 L256.1,212.4 L257.8,211.1 L259.4,209.8 L261.0,208.6 L262.7,207.3 L264.3,206.0 L265.9,204.8 L267.5,203.5 L269.2,202.3 L270.8,201.1 L272.4,199.8 L274.1,198.6 L275.7,197.4 L277.3,196.2 L278.9,195.0 L280.6,193.9 L282.2,192.7 L283.8,191.6 L285.5,190.4 L287.1,189.3 L288.7,188.2 L290.4,187.1 L292.0,186.0 L293.6,184.9 L295.2,183.9 L296.9,182.8 L298.5,181.8 L300.1,180.8 L301.8,179.8 L303.4,178.8 L305.0,177.8 L306.7,176.9 L308.3,175.9 L309.9,175.0 L311.5,174.1 L313.2,173.2 L314.8,172.4 L316.4,171.5 L318.1,170.7 L319.7,169.8 L321.3,169.0 L323.0,168.2 L324.6,167.5 L326.2,166.7 L327.8,166.0 L329.5,165.2 L331.1,164.5 L332.7,163.8 L334.4,163.1 L336.0,162.4 L337.6,161.8 L339.2,161.1 L340.9,160.5 L342.5,159.9 L344.1,159.2 L345.8,158.7 L347.4,158.1 L349.0,157.5 L350.7,156.9 L352.3,156.4 L353.9,155.8 L355.5,155.3 L357.2,154.8 L358.8,154.3 L360.4,153.8 L362.1,153.3 L363.7,152.8 L365.3,152.4 L367.0,151.9 L368.6,151.5 L370.2,151.0 L371.8,150.6 L373.5,150.2 L375.1,149.8 L376.7,149.3 L378.4,149.0 L380.0,148.6 L381.6,148.2 L383.3,147.8 L384.9,147.4 L386.5,147.1 L388.1,146.7 L389.8,146.4 L391.4,146.1 L393.0,145.7 L394.7,145.4 L396.3,145.1 L397.9,144.8 L399.6,144.5 L401.2,144.2 L402.8,143.9 L404.4,143.6 L406.1,143.3 L407.7,143.0 L409.3,142.8 L411.0,142.5 L412.6,142.3 L414.2,142.0 L415.8,141.8 L417.5,141.5 L419.1,141.3 L420.7,141.1 L422.4,140.9 L424.0,140.7 L425.6,140.4 L427.3,140.2 L428.9,140.0 L430.5,139.8 L432.1,139.7 L433.8,139.5 L435.4,139.3 L437.0,139.1 L438.7,138.9 L440.3,138.8 L441.9,138.6 L443.6,138.5 L445.2,138.3 L446.8,138.2 L448.4,138.0 L450.1,137.9 L451.7,137.7 L453.3,137.6 L455.0,137.5 L456.6,137.3 L458.2,137.2 L459.9,137.1 L461.5,137.0 L463.1,136.9 L464.7,136.8 L466.4,136.6 L468.0,136.5 L469.6,136.4 L471.3,136.3 L472.9,136.2 L474.5,136.2 L476.1,136.1 L477.8,136.0 L479.4,135.9 L481.0,135.8 L482.7,135.7 L484.3,135.6 L485.9,135.6 L487.6,135.5 L489.2,135.4 L490.8,135.3 L492.4,135.3 L494.1,135.2 L495.7,135.1 L497.3,135.1 L499.0,135.0 L500.6,134.9 L502.2,134.9 L503.9,134.8 L505.5,134.8 L507.1,134.7 L508.7,134.6 L510.4,134.6 L512.0,134.5 L513.6,134.5 L515.3,134.4 L516.9,134.4 L518.5,134.3 L520.2,134.3 L521.8,134.2 L523.4,134.1 L525.0,134.1 L526.7,134.0 L528.3,134.0 L529.9,133.9 L531.6,133.9 L533.2,133.8 L534.8,133.8 L536.5,133.7 L538.1,133.6 L539.7,133.6 L541.3,133.5 L543.0,133.5 L544.6,133.4" stroke="#dc1e1e" stroke-width="1.9" fill="none" stroke-linecap="butt" stroke-linejoin="round" stroke-dasharray="12.5 4.7"/><path d="M57.3,347.8 L58.9,345.6 L60.6,343.6 L62.2,341.8 L63.8,340.2 L65.4,338.6 L67.1,337.2 L68.7,335.8 L70.3,334.5 L72.0,333.3 L73.6,332.1 L75.2,331.0 L76.9,329.9 L78.5,328.8 L80.1,327.8 L81.7,326.9 L83.4,325.9 L85.0,325.0 L86.6,324.1 L88.3,323.3 L89.9,322.4 L91.5,321.6 L93.2,320.7 L94.8,319.9 L96.4,319.1 L98.0,318.3 L99.7,317.5 L101.3,316.7 L102.9,316.0 L104.6,315.2 L106.2,314.4 L107.8,313.7 L109.5,312.9 L111.1,312.2 L112.7,311.4 L114.3,310.7 L116.0,309.9 L117.6,309.2 L119.2,308.4 L120.9,307.7 L122.5,306.9 L124.1,306.1 L125.8,305.4 L127.4,304.6 L129.0,303.8 L130.6,302.9 L132.3,302.1 L133.9,301.3 L135.5,300.4 L137.2,299.5 L138.8,298.7 L140.4,297.7 L142.0,296.8 L143.7,295.9 L145.3,294.9 L146.9,294.0 L148.6,293.0 L150.2,292.0 L151.8,291.0 L153.5,289.9 L155.1,288.9 L156.7,287.8 L158.3,286.8 L160.0,285.7 L161.6,284.6 L163.2,283.5 L164.9,282.3 L166.5,281.2 L168.1,280.0 L169.8,278.8 L171.4,277.6 L173.0,276.4 L174.6,275.2 L176.3,274.0 L177.9,272.7 L179.5,271.5 L181.2,270.2 L182.8,268.9 L184.4,267.6 L186.1,266.3 L187.7,265.0 L189.3,263.6 L190.9,262.3 L192.6,260.9 L194.2,259.5 L195.8,258.1 L197.5,256.7 L199.1,255.3 L200.7,253.9 L202.3,252.5 L204.0,251.0 L205.6,249.5 L207.2,248.1 L208.9,246.6 L210.5,245.1 L212.1,243.5 L213.8,242.0 L215.4,240.5 L217.0,238.9 L218.6,237.4 L220.3,235.8 L221.9,234.2 L223.5,232.6 L225.2,231.0 L226.8,229.4 L228.4,227.8 L230.1,226.2 L231.7,224.5 L233.3,222.9 L234.9,221.3 L236.6,219.6 L238.2,218.0 L239.8,216.3 L241.5,214.7 L243.1,213.1 L244.7,211.4 L246.4,209.8 L248.0,208.2 L249.6,206.6 L251.2,204.9 L252.9,203.3 L254.5,201.7 L256.1,200.2 L257.8,198.6 L259.4,197.0 L261.0,195.5 L262.7,194.0 L264.3,192.5 L265.9,191.0 L267.5,189.5 L269.2,188.1 L270.8,186.6 L272.4,185.2 L274.1,183.8 L275.7,182.4 L277.3,181.0 L278.9,179.7 L280.6,178.3 L282.2,177.0 L283.8,175.7 L285.5,174.3 L287.1,173.0 L288.7,171.8 L290.4,170.5 L292.0,169.2 L293.6,168.0 L295.2,166.7 L296.9,165.5 L298.5,164.2 L300.1,163.0 L301.8,161.8 L303.4,160.6 L305.0,159.4 L306.7,158.2 L308.3,157.0 L309.9,155.8 L311.5,154.6 L313.2,153.4 L314.8,152.2 L316.4,151.1 L318.1,149.9 L319.7,148.8 L321.3,147.7 L323.0,146.6 L324.6,145.5 L326.2,144.4 L327.8,143.4 L329.5,142.4 L331.1,141.4 L332.7,140.5 L334.4,139.6 L336.0,138.7 L337.6,137.9 L339.2,137.0 L340.9,136.2 L342.5,135.5 L344.1,134.7 L345.8,134.0 L347.4,133.2 L349.0,132.5 L350.7,131.8 L352.3,131.1 L353.9,130.5 L355.5,129.8 L357.2,129.2 L358.8,128.5 L360.4,127.9 L362.1,127.3 L363.7,126.7 L365.3,126.1 L367.0,125.6 L368.6,125.0 L370.2,124.5 L371.8,123.9 L373.5,123.4 L375.1,122.9 L376.7,122.4 L378.4,121.9 L380.0,121.5 L381.6,121.0 L383.3,120.5 L384.9,120.1 L386.5,119.6 L388.1,119.2 L389.8,118.8 L391.4,118.4 L393.0,118.0 L394.7,117.6 L396.3,117.2 L397.9,116.8 L399.6,116.5 L401.2,116.1 L402.8,115.8 L404.4,115.4 L406.1,115.1 L407.7,114.8 L409.3,114.4 L411.0,114.1 L412.6,113.8 L414.2,113.5 L415.8,113.2 L417.5,112.9 L419.1,112.7 L420.7,112.4 L422.4,112.1 L424.0,111.9 L425.6,111.6 L427.3,111.3 L428.9,111.1 L430.5,110.8 L432.1,110.6 L433.8,110.4 L435.4,110.1 L437.0,109.9 L438.7,109.7 L440.3,109.5 L441.9,109.3 L443.6,109.1 L445.2,108.9 L446.8,108.7 L448.4,108.5 L450.1,108.3 L451.7,108.1 L453.3,107.9 L455.0,107.8 L456.6,107.6 L458.2,107.4 L459.9,107.3 L461.5,107.1 L463.1,107.0 L464.7,106.8 L466.4,106.7 L468.0,106.5 L469.6,106.4 L471.3,106.3 L472.9,106.1 L474.5,106.0 L476.1,105.9 L477.8,105.8 L479.4,105.6 L481.0,105.5 L482.7,105.4 L484.3,105.3 L485.9,105.2 L487.6,105.1 L489.2,105.0 L490.8,104.9 L492.4,104.8 L494.1,104.7 L495.7,104.6 L497.3,104.5 L499.0,104.5 L500.6,104.4 L502.2,104.3 L503.9,104.2 L505.5,104.1 L507.1,104.1 L508.7,104.0 L510.4,103.9 L512.0,103.9 L513.6,103.8 L515.3,103.7 L516.9,103.7 L518.5,103.6 L520.2,103.6 L521.8,103.5 L523.4,103.5 L525.0,103.4 L526.7,103.3 L528.3,103.3 L529.9,103.2 L531.6,103.2 L533.2,103.2 L534.8,103.1 L536.5,103.1 L538.1,103.0 L539.7,103.0 L541.3,102.9 L543.0,102.9 L544.6,102.8" stroke="#000000" stroke-width="1.55" fill="none" stroke-linecap="butt" stroke-linejoin="round"/><ellipse cx="178.8" cy="278" rx="43.3" ry="23" fill="none" stroke="#6f6fd0" stroke-width="1" stroke-dasharray="1.3 0.5"/><path d="M180.3,301V428" stroke="#5a5ae6" stroke-width="1.1" stroke-dasharray="1.1 0.7" fill="none"/><path d="M175.2,425.1 L180.3,427.8 L185.4,425.1 L180.3,434.6 Z" fill="#1414e6"/><rect x="57.3" y="4.4" width="487.3" height="458.8" fill="none" stroke="#555" stroke-width="1.3"/><path d="M86,30.2H114" stroke="#000000" stroke-width="1.55" fill="none" stroke-linecap="butt"/><text x="134.6" y="36.2" font-size="17.6">Diamond</text><path d="M86,50.3H114" stroke="#dc1e1e" stroke-width="1.9" fill="none" stroke-linecap="butt" stroke-dasharray="12.5 4.7"/><text x="134.6" y="56.3" font-size="17.6">SiC</text><path d="M86,70.4H114" stroke="#228b22" stroke-width="1.8" fill="none" stroke-linecap="butt" stroke-dasharray="7.2 1.6"/><text x="134.6" y="76.4" font-size="17.6">Co</text><path d="M86,90.4H114" stroke="#0000e6" stroke-width="1.8" fill="none" stroke-linecap="butt" stroke-dasharray="2.3 2.1"/><text x="134.6" y="96.4" font-size="17.6">Cr</text><path d="M86,110.5H114" stroke="#20e0e0" stroke-width="1.8" fill="none" stroke-linecap="butt" stroke-dasharray="7.5 1.5 1.5 1.5"/><text x="134.6" y="116.5" font-size="17.6">Ni</text><path d="M86,130.6H114" stroke="#d020d0" stroke-width="1.8" fill="none" stroke-linecap="butt" stroke-dasharray="1.5 1.6"/><text x="134.6" y="136.6" font-size="17.6">WC</text><path d="M86,150.7H114" stroke="#8b1a1a" stroke-width="1.8" fill="none" stroke-linecap="butt"/><text x="134.6" y="156.7" font-size="17.6">ZrB<tspan font-size="12" dy="4">2</tspan></text><path d="M86,170.8H114" stroke="#0f6e0f" stroke-width="1.8" fill="none" stroke-linecap="butt" stroke-dasharray="7.2 1.9 2.2 1.8"/><text x="134.6" y="176.8" font-size="17.6">CBN</text><path d="M86,190.8H114" stroke="#23238f" stroke-width="2.0" fill="none" stroke-linecap="butt" stroke-dasharray="2 3.8"/><text x="134.6" y="196.8" font-size="17.6">TiN</text><text x="52.4" y="429.8" font-size="18.5" text-anchor="end">2</text><text x="52.4" y="350.1" font-size="18.5" text-anchor="end">4</text><text x="52.4" y="270.3" font-size="18.5" text-anchor="end">6</text><text x="52.4" y="190.6" font-size="18.5" text-anchor="end">8</text><text x="52.4" y="110.8" font-size="18.5" text-anchor="end">10</text><text x="52.4" y="31.1" font-size="18.5" text-anchor="end">12</text><text x="43.1" y="484.6" font-size="18.8">10<tspan font-size="10.2" dy="-8.3">−7</tspan></text><text x="182.4" y="484.6" font-size="18.8">10<tspan font-size="10.2" dy="-8.3">−6</tspan></text><text x="321.7" y="484.6" font-size="18.8">10<tspan font-size="10.2" dy="-8.3">−5</tspan></text><text x="461.0" y="484.6" font-size="18.8">10<tspan font-size="10.2" dy="-8.3">−4</tspan></text><text x="236" y="506.6" font-size="18">Inclusion Size (m)</text><text transform="translate(20.2,389) rotate(-90)" font-size="17.5"><tspan x="0">Effective Thermal Conductivity</tspan><tspan x="226.3">(W m</tspan><tspan x="267.8" dy="-7.5" font-size="11">-1</tspan><tspan x="279.6" dy="7.5">K</tspan><tspan x="296.2" dy="-7.5" font-size="11">-1</tspan><tspan x="305.5" dy="7.5">)</tspan></text><text x="267.5" y="28" font-size="18" textLength="154.2" lengthAdjust="spacingAndGlyphs">R = 5.0x10<tspan font-size="10.5" dy="-7">-8</tspan><tspan dy="7">  K.m</tspan><tspan font-size="10.5" dy="-7">2</tspan><tspan dy="7">/W</tspan></text><text x="268.5" y="50.9" font-size="18" textLength="165.9" lengthAdjust="spacingAndGlyphs">Volume fraction = 16%</text><text x="326" y="268.4" font-size="18" textLength="219.4" lengthAdjust="spacingAndGlyphs">SiAlON Thermal Conductivity</text></svg>
</body></html>
